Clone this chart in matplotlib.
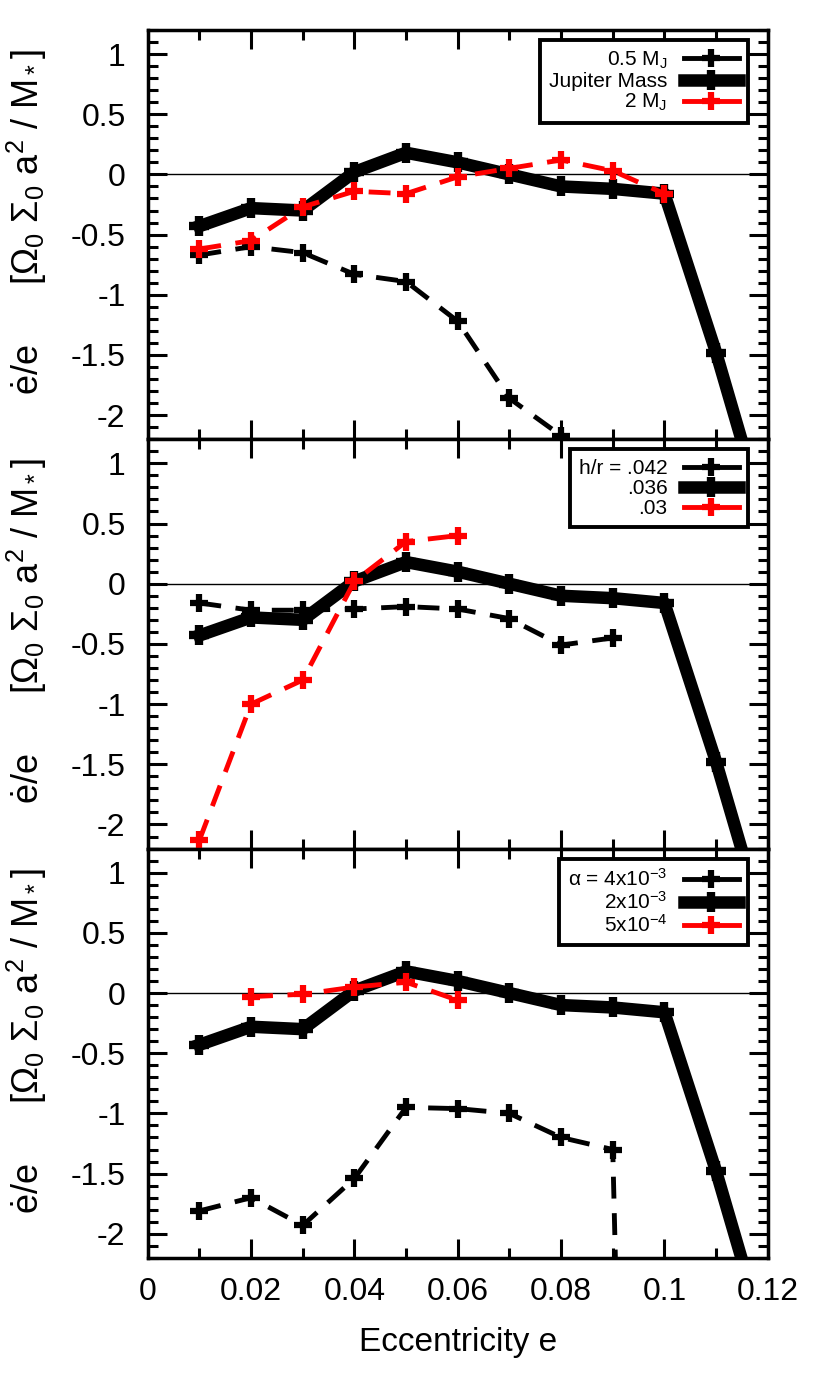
import numpy as np
import matplotlib
matplotlib.use("Agg")
import matplotlib.pyplot as plt
from matplotlib.lines import Line2D
from matplotlib.ticker import MultipleLocator, FuncFormatter

plt.rcParams["font.family"] = ["Liberation Sans", "DejaVu Sans"]
plt.rcParams["mathtext.fontset"] = "custom"
plt.rcParams["mathtext.rm"] = "Liberation Sans"
plt.rcParams["mathtext.it"] = "Liberation Sans"
plt.rcParams["axes.unicode_minus"] = False

# reference run (Jupiter mass, h/r=.036, alpha=2e-3), shown in all panels
ecc_ref = [0.01, 0.02, 0.03, 0.04, 0.05, 0.06, 0.07, 0.08, 0.09, 0.10, 0.11, 0.12]
rate_ref = [-0.43, -0.28, -0.30, 0.02, 0.18, 0.10, 0.00, -0.10, -0.12, -0.16, -1.48, -2.95]

# panel 1: planet mass
ecc_half_mj = [0.01, 0.02, 0.03, 0.04, 0.05, 0.06, 0.07, 0.08]
rate_half_mj = [-0.67, -0.60, -0.65, -0.83, -0.89, -1.22, -1.86, -2.17]
ecc_two_mj = [0.01, 0.02, 0.03, 0.04, 0.05, 0.06, 0.07, 0.08, 0.09, 0.10]
rate_two_mj = [-0.62, -0.55, -0.27, -0.14, -0.16, -0.02, 0.05, 0.12, 0.03, -0.16]

# panel 2: disc aspect ratio
ecc_hr042 = [0.01, 0.02, 0.03, 0.04, 0.05, 0.06, 0.07, 0.08, 0.09]
rate_hr042 = [-0.16, -0.22, -0.22, -0.21, -0.19, -0.21, -0.29, -0.51, -0.45]
ecc_hr03 = [0.01, 0.02, 0.03, 0.04, 0.05, 0.06]
rate_hr03 = [-2.13, -1.00, -0.80, 0.02, 0.35, 0.40]

# panel 3: viscosity
ecc_a4e3 = [0.01, 0.02, 0.03, 0.04, 0.05, 0.06, 0.07, 0.08, 0.09, 0.10]
rate_a4e3 = [-1.81, -1.70, -1.93, -1.54, -0.95, -0.96, -1.00, -1.20, -1.30, -19.0]
ecc_a5e4 = [0.02, 0.03, 0.04, 0.05, 0.06]
rate_a5e4 = [-0.03, -0.01, 0.05, 0.09, -0.06]

panels = [
    (ecc_half_mj, rate_half_mj, ecc_two_mj, rate_two_mj,
     ["0.5 M$_J$", "Jupiter Mass", "2 M$_J$"]),
    (ecc_hr042, rate_hr042, ecc_hr03, rate_hr03,
     ["h/r = .042", ".036", ".03"]),
    (ecc_a4e3, rate_a4e3, ecc_a5e4, rate_a5e4,
     ["α = 4x10$^{-3}$", "2x10$^{-3}$", "5x10$^{-4}$"]),
]

fig, axes = plt.subplots(3, 1, figsize=(8.3, 13.93), dpi=100, sharex=True)
fig.subplots_adjust(left=0.178, right=0.925, top=0.9785, bottom=0.097, hspace=0)

thin = dict(lw=3.5, marker="+", ms=13, mew=4.5, dashes=(4.5, 3))
thick = dict(lw=9, marker="+", ms=15, mew=6, color="black")

for ax, (xa, ya, xb, yb, labels) in zip(axes, panels):
    ax.axhline(0, color="black", lw=1, zorder=1)
    ax.plot(xa, ya, color="black", zorder=2, **thin)
    ax.plot(ecc_ref, rate_ref, zorder=3, **thick)
    ax.plot(xb, yb, color="red", zorder=4, **thin)

    ax.set_xlim(0, 0.12)
    ax.set_ylim(-2.2, 1.2)
    ax.yaxis.set_major_locator(MultipleLocator(0.5))
    ax.yaxis.set_minor_locator(MultipleLocator(0.1))
    ax.xaxis.set_major_locator(MultipleLocator(0.02))
    ax.xaxis.set_minor_locator(MultipleLocator(0.01))
    ax.yaxis.set_major_formatter(FuncFormatter(lambda v, p: "%g" % round(v, 3)))
    ax.xaxis.set_major_formatter(FuncFormatter(lambda v, p: "%g" % round(v, 3)))
    ax.tick_params(which="both", direction="in", top=True, right=True,
                   labelsize=23, width=2.2)
    ax.tick_params(which="major", length=14)
    ax.tick_params(which="minor", length=7)
    ax.tick_params(axis="y", which="major", pad=16)
    ax.tick_params(axis="x", which="major", pad=14)
    for sp in ax.spines.values():
        sp.set_linewidth(2.5)

    ax.set_ylabel("ė/e      [Ω$_0$ Σ$_0$ a$^2$ / M$_*$]", fontsize=26)
    ax.yaxis.set_label_coords(-0.16, 0.53)

    handles = [
        Line2D([], [], color="black", lw=3.5, marker="+", ms=13, mew=4.5),
        Line2D([], [], color="black", lw=9, marker="+", ms=15, mew=6),
        Line2D([], [], color="red", lw=3.5, marker="+", ms=13, mew=4.5),
    ]
    leg = ax.legend(handles, labels, loc="upper right", bbox_to_anchor=(0.968, 0.975),
                    borderaxespad=0, markerfirst=False, numpoints=1, fontsize=15,
                    handlelength=2.6, handletextpad=0.8, labelspacing=0.05,
                    fancybox=False, framealpha=1, edgecolor="black", borderpad=0.45)
    leg.get_frame().set_linewidth(2.8)

axes[-1].set_xlabel("Eccentricity e", fontsize=24, labelpad=14)

plt.savefig("out.png", dpi=100)
